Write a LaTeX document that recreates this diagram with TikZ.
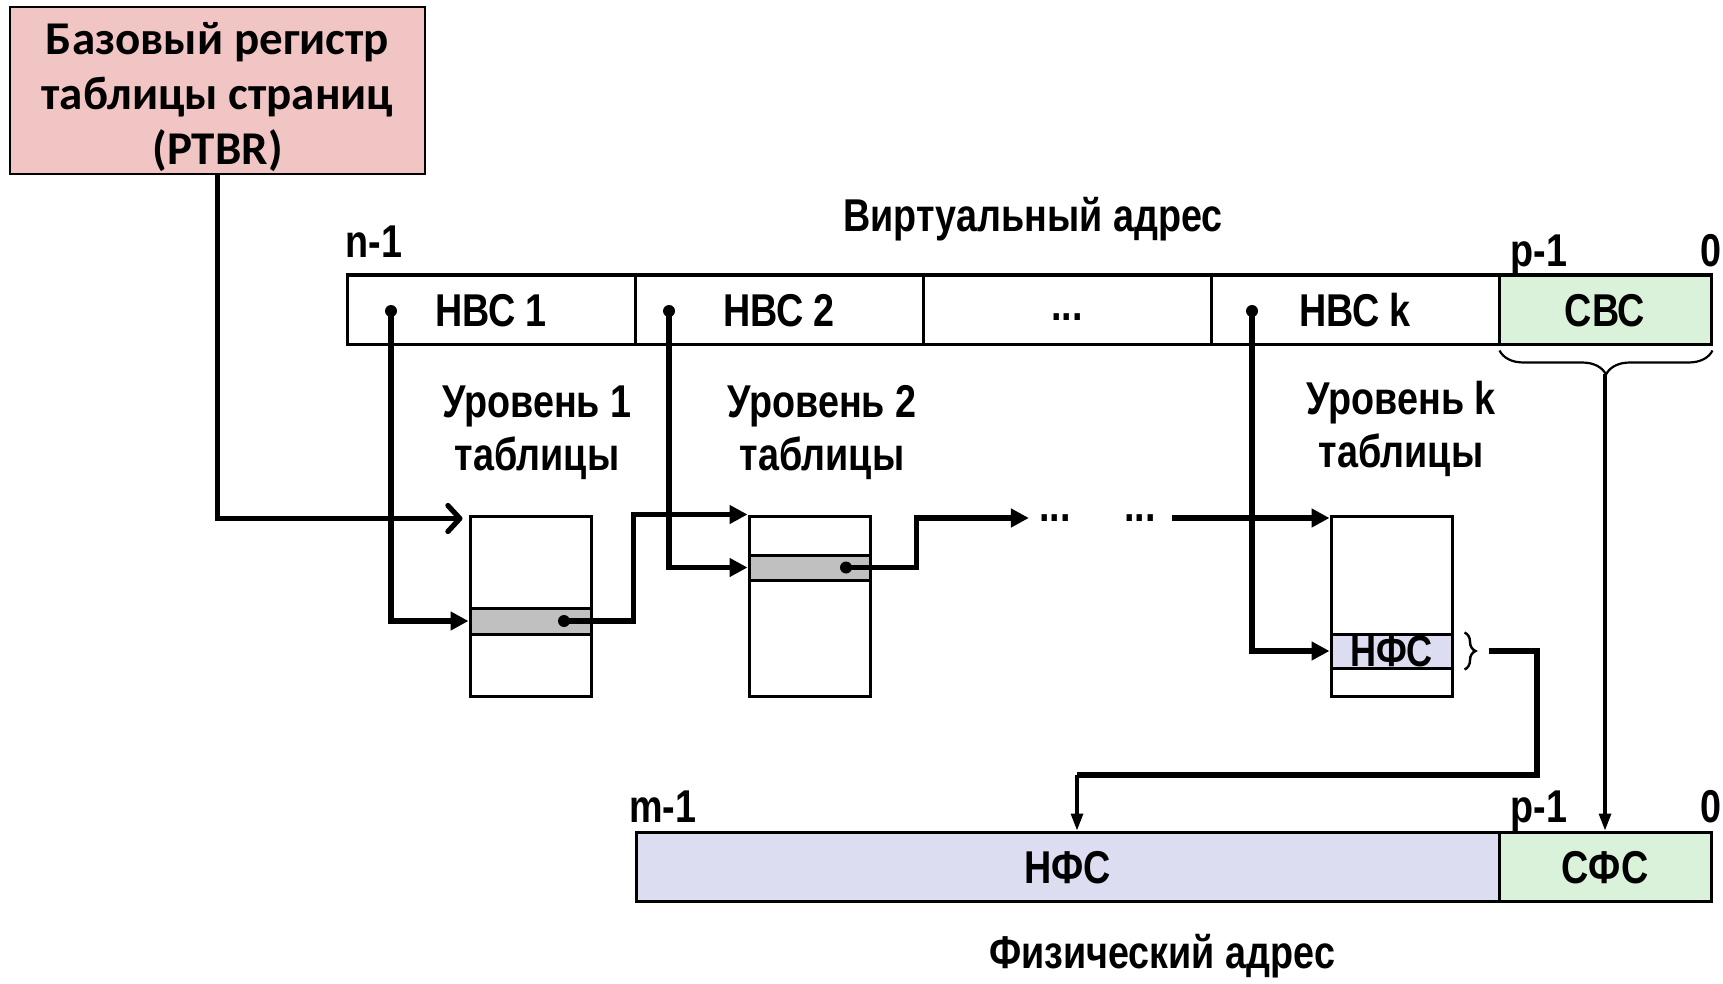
\documentclass[tikz,border=0pt]{standalone}
\usepackage{fontspec}
\usetikzlibrary{arrows.meta,calc,decorations.pathreplacing}
\newfontfamily\nar{Liberation Sans Bold}[FakeStretch=0.82]
\newfontfamily\ptbrfont{Carlito}
\definecolor{ptbrpink}{RGB}{242,197,197}
\definecolor{offgreen}{RGB}{218,242,218}
\definecolor{ppnlav}{RGB}{221,221,242}
\definecolor{rowgray}{RGB}{192,192,192}
\begin{document}
\begin{tikzpicture}[x=0.5pt,y=-0.5pt,
 lbl/.style={font=\nar\fontsize{23}{27}\selectfont, inner sep=0pt},
 cell/.style={draw, line width=1.5pt, minimum height=34.5pt, inner sep=0pt, text height=16.5pt, text depth=0pt, font=\nar\fontsize{23}{27}\selectfont},
 tbl/.style={draw, line width=1.5pt, minimum width=60.5pt, minimum height=90pt, inner sep=0pt, fill=white},
 tblrow/.style={draw, line width=1.5pt, minimum width=60.5pt, inner sep=0pt},
 dotn/.style={circle, fill=black, inner sep=0pt, minimum size=6pt},
 conn/.style={line width=2.6pt},
 filltip/.style={-{Triangle[length=9pt,width=9pt]}},
 thinarr/.style={line width=1.6pt, -{Triangle[length=8.5pt,width=6pt]}},
]
\useasboundingbox (0,0) rectangle (1723,984);

% PTBR
\node[draw, line width=1pt, fill=ptbrpink, minimum width=207.5pt, minimum height=83.5pt, inner sep=0pt] (ptbr) at (217.5,90.5) {};
\node[align=center, font=\ptbrfont\bfseries\fontsize{23.5}{27.5}\selectfont, inner sep=0pt] (ptbrt) at (217.5,97) {Базовый регистр\\таблицы страниц\\(PTBR)};

% virtual address
\node[lbl, anchor=base] (va) at (1033,232) {Виртуальный адрес};
\node[lbl, anchor=base west] (n1) at (345,257) {n-1};
\node[lbl, anchor=base west] (p1) at (1510,266) {p-1};
\node[lbl, anchor=base] (z1) at (1711,266) {0};
\node[cell, minimum width=144pt] (c1) at (491,309.5) {НВС 1};
\node[cell, minimum width=144pt] (c2) at (779,309.5) {НВС 2};
\node[cell, minimum width=144pt] (c3) at (1067,309.5) {\raisebox{3pt}{...}};
\node[cell, minimum width=144pt] (c4) at (1355,309.5) {НВС k};
\node[cell, minimum width=106pt, fill=offgreen] (cbc) at (1605,309.5) {СВС};

% physical address
\node[lbl, anchor=base west] (m1) at (629,822) {m-1};
\node[lbl, anchor=base west] (p2) at (1510,822) {p-1};
\node[lbl, anchor=base] (z2) at (1711,822) {0};
\node[cell, minimum width=431.5pt, fill=ppnlav] (nfs) at (1067.5,866.5) {НФС};
\node[cell, minimum width=106pt, fill=offgreen] (sfs) at (1605,866.5) {СФС};
\node[lbl, anchor=base] (pa) at (1162,968) {Физический адрес};

% level labels
\node[lbl, anchor=base] (l1a) at (537,417) {Уровень 1};
\node[lbl, anchor=base] (l1b) at (537,470) {таблицы};
\node[lbl, anchor=base] (l2a) at (822,417) {Уровень 2};
\node[lbl, anchor=base] (l2b) at (822,470) {таблицы};
\node[lbl, anchor=base] (lka) at (1401,414) {Уровень k};
\node[lbl, anchor=base] (lkb) at (1401,467) {таблицы};

% tables
\node[tbl] (t1) at (530.5,606) {};
\node[tbl] (t2) at (809.5,606) {};
\node[tbl] (tk) at (1391.5,606) {};
\node[tblrow, fill=rowgray, minimum height=13pt] (r1) at (530.5,621) {};
\node[tblrow, fill=rowgray, minimum height=12.5pt] (r2) at (809.5,567.5) {};
\node[tblrow, fill=ppnlav, minimum height=17pt, text height=15.5pt, text depth=0pt, font=\nar\fontsize{22}{24}\selectfont] (rk) at (1391.5,651) {НФС};

% dots
\node[dotn] (d1) at (391,311) {};
\node[dotn] (d2) at (669,311) {};
\node[dotn] (dk) at (1252,311) {};
\node[dotn] (e1) at (564,621) {};
\node[dotn] (e2) at (846,567.5) {};
\node[lbl] (dots1) at (1055,518) {...};
\node[lbl] (dots2) at (1140,518) {...};

% connectors
\draw[conn, -{Straight Barb[length=6pt,width=13pt,round]}] (ptbr.south) |- ($(t1.north west)+(-6,4)$);
\draw[conn, filltip] (d1.center) |- (r1.west);
\draw[conn, filltip] (e1.center) -| (c2.west |- t2.north) -- (t2.north west);
\draw[conn, filltip] (d2.center) |- (r2.west);
\draw[conn, filltip] (e2.center) -| ($(c3.west |- dots1.west)+(-5,0)$) -- ($(dots1.west)+(-10,0)$);
\draw[conn, filltip] ($(dots2.east)+(16,0)$) -- (tk.north west |- dots2.east);
\draw[conn, filltip] (dk.center) |- (rk.west);

\draw[decorate, decoration={brace, amplitude=5.5pt}, line width=1.2pt] ($(rk.north east)+(11,0)$) -- ($(rk.south east)+(11,0)$);
\coordinate (bend) at (1537,775);
\coordinate (bend2) at (1077,775);
\draw[conn] ($(rk.east)+(35,0)$) -| (bend) -- (bend2);
\draw[thinarr] (bend2) -- (bend2 |- nfs.north);

\draw[decorate, decoration={brace, mirror, amplitude=12pt}, line width=1.1pt] ($(cbc.south west)+(2,5)$) -- ($(cbc.south east)+(0,5)$);
\coordinate (bt) at (1605,374);
\draw[thinarr] (bt) -- (sfs.north);
\end{tikzpicture}
\end{document}
